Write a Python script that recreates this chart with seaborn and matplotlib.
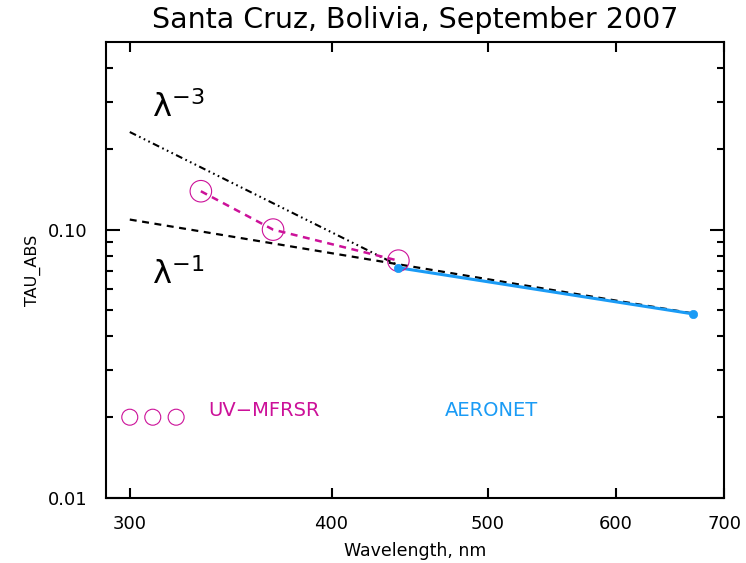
import numpy as np
import pandas as pd
import matplotlib
matplotlib.use("Agg")
import matplotlib.pyplot as plt
import seaborn as sns
from matplotlib.ticker import FixedLocator, NullFormatter, NullLocator

sns.set_style("white")
plt.rcParams['font.family'] = ['DejaVu Sans']
plt.rcParams['lines.scale_dashes'] = False
plt.rcParams['text.color'] = 'black'
plt.rcParams['axes.labelcolor'] = 'black'
plt.rcParams['mathtext.default'] = 'regular'

# ---- data ----
uv_wl = [332, 368, 440]
uv_tau = [0.139, 0.100, 0.0766]
aer_wl = [440, 670]
aer_tau = [0.0721, 0.0485]
lam3_wl = [300, 440]
lam3_tau = [0.231, 0.0735]
lam1_wl = [300, 670]
lam1_tau = [0.109, 0.0487]
legend_circ_wl = [300, 310, 320.5]
legend_circ_tau = [0.02, 0.02, 0.02]
xticks = [300, 400, 500, 600, 700]
yticks = [0.01, 0.10]
yticklabels = ["0.01", "0.10"]
yminor = [0.02, 0.03, 0.04, 0.05, 0.06, 0.07, 0.08, 0.09, 0.2, 0.3, 0.4]

magenta = "#cc1199"
blue = "#1a9bf5"

fig = plt.figure(figsize=(7.46, 5.63), dpi=100)
ax = fig.add_axes([106/746, 1-498/563, (724-106)/746, (498-42)/563])

# lambda lines
sns.lineplot(x=lam3_wl, y=lam3_tau, ax=ax, color="black", lw=1.5,
             linestyle=(0, (5, 2.5, 1.2, 2.5, 1.2, 2.5, 1.2, 2.5)))
sns.lineplot(x=lam1_wl, y=lam1_tau, ax=ax, color="black", lw=1.6,
             linestyle=(0, (5, 4)))

# UV-MFRSR
sns.lineplot(x=uv_wl, y=uv_tau, ax=ax, color=magenta, lw=1.8,
             linestyle=(0, (5, 4)))
sns.scatterplot(x=uv_wl, y=uv_tau, ax=ax, s=15.5**2, facecolor="none",
                edgecolor=magenta, linewidth=0.8, zorder=5)

# AERONET
sns.lineplot(x=aer_wl, y=aer_tau, ax=ax, color=blue, lw=2.2)
sns.scatterplot(x=aer_wl, y=aer_tau, ax=ax, s=6**2, color=blue,
                edgecolor=blue, linewidth=0.5, zorder=6)

# legend-like annotations
sns.scatterplot(x=legend_circ_wl, y=legend_circ_tau, ax=ax, s=11.5**2,
                facecolor="none", edgecolor=magenta, linewidth=0.8)
ax.text(335.5, 0.0212, "UV\u2212MFRSR", color=magenta, fontsize=14,
        va="center", ha="left")
ax.text(470, 0.0212, "AERONET", color=blue, fontsize=14,
        va="center", ha="left")

ax.text(309.5, 0.285, "λ$^{-3}$", fontsize=23, va="center", ha="left",
        color="black")
ax.text(309.5, 0.068, "λ$^{-1}$", fontsize=23, va="center", ha="left",
        color="black")

ax.set_xscale("log")
ax.set_yscale("log")
ax.set_xlim(290, 700)
ax.set_ylim(0.01, 0.5)

ax.xaxis.set_major_locator(FixedLocator(xticks))
ax.xaxis.set_minor_locator(NullLocator())
ax.set_xticklabels([str(t) for t in xticks])
ax.xaxis.set_minor_formatter(NullFormatter())
ax.yaxis.set_major_locator(FixedLocator(yticks))
ax.set_yticklabels(yticklabels)
ax.yaxis.set_minor_locator(FixedLocator(yminor))
ax.yaxis.set_minor_formatter(NullFormatter())

ax.tick_params(axis="both", which="both", direction="in", top=True,
               right=True, bottom=True, left=True, width=1.5,
               labelsize=13, colors="black")
ax.tick_params(axis="x", which="major", length=7, pad=12)
ax.tick_params(axis="y", which="major", length=10, pad=13)
ax.tick_params(axis="y", which="minor", length=5)

for sp in ax.spines.values():
    sp.set_linewidth(1.5)
    sp.set_color("black")
    sp.set_visible(True)

ax.set_xlabel("Wavelength, nm", fontsize=12.5, labelpad=7, color="black")
ax.set_ylabel("TAU_ABS", fontsize=11.5, labelpad=5, color="black")
ax.set_title("Santa Cruz, Bolivia, September 2007", fontsize=20.5, pad=10,
             color="black")

fig.savefig("out.png", dpi=100)
